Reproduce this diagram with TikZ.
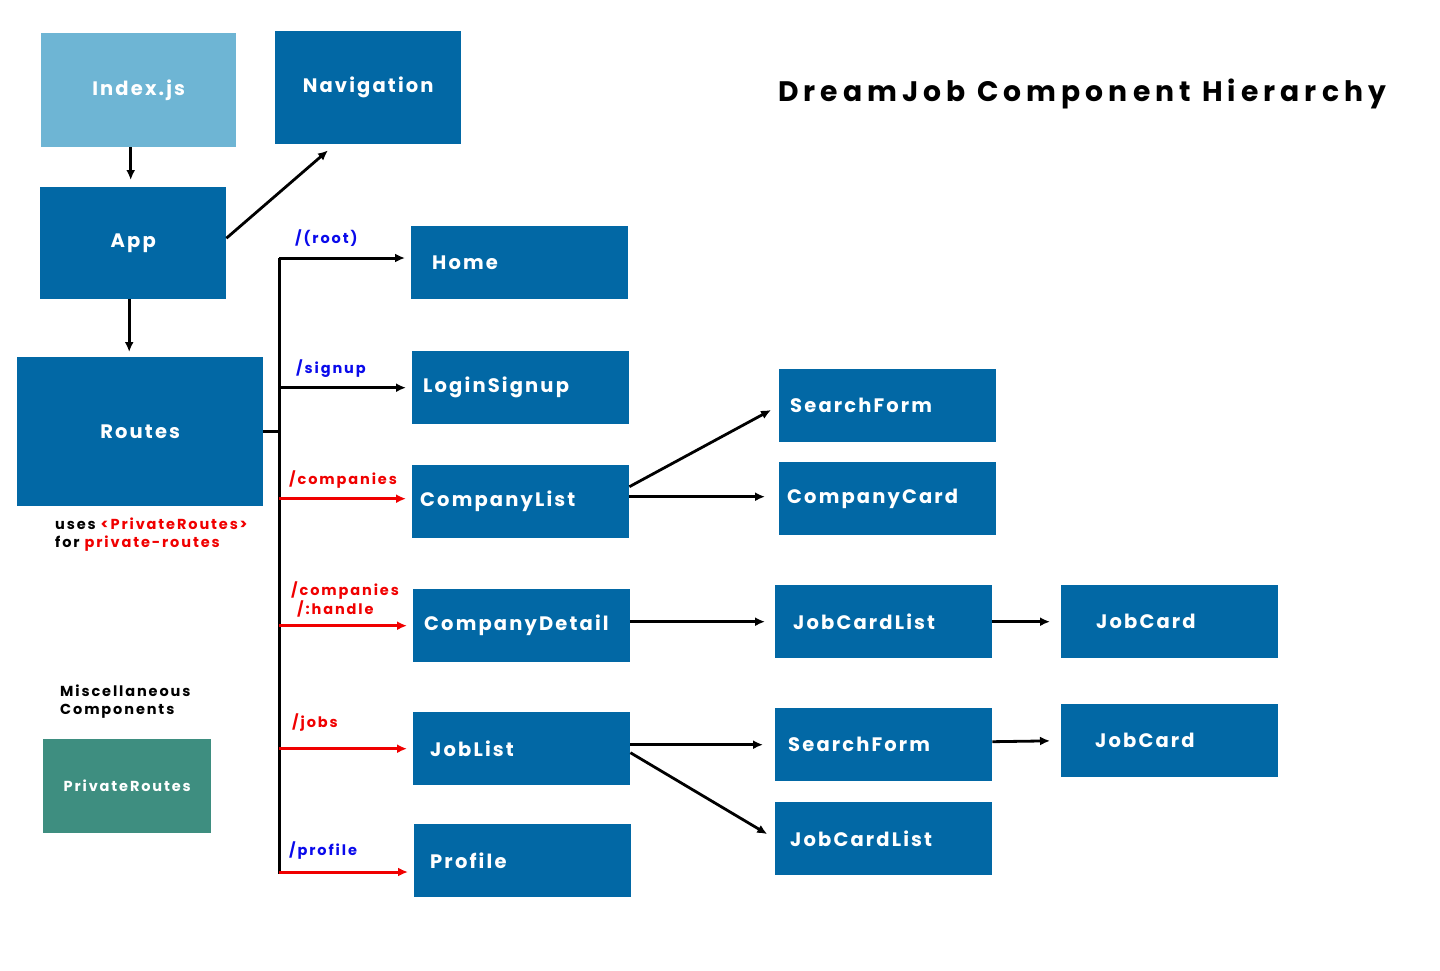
\documentclass[tikz,border=0pt]{standalone}
\usepackage{fontspec}
\setmainfont{Poppins}
\newfontfamily\boxfont{Poppins}[LetterSpace=11]
\newfontfamily\labelfont{Poppins}[LetterSpace=13]
\newfontfamily\titlefont{Poppins}[LetterSpace=18]
\usetikzlibrary{arrows.meta,positioning}
\definecolor{compblue}{RGB}{2,104,165}
\definecolor{rootblue}{RGB}{110,181,212}
\definecolor{miscgreen}{RGB}{62,142,128}
\definecolor{pathblue}{RGB}{10,10,235}
\definecolor{pathred}{RGB}{240,0,0}
\begin{document}
\begin{tikzpicture}[x=1pt,y=-1pt,
  comp/.style={fill=compblue, text=white, anchor=north west, inner xsep=14pt, inner ysep=0pt,
    minimum height=73pt, text width=189pt, align=left, font=\boxfont\bfseries\fontsize{19.5}{22}\selectfont},
  link/.style={line width=2.8pt, -{Latex[length=10pt,width=9pt]}, shorten >=7pt},
  route/.style={line width=3pt, -{Latex[length=10pt,width=9pt]}, shorten >=6pt},
  path/.style={anchor=west, inner sep=0pt, align=left, font=\labelfont\bfseries\fontsize{14.5}{17}\selectfont},
  note/.style={inner sep=0pt, align=left, font=\labelfont\bfseries\fontsize{14.5}{18}\selectfont}]
\useasboundingbox (0,0) rectangle (1440,971);
% title
\node[anchor=west, inner sep=0pt, font=\titlefont\bfseries\fontsize{28.2}{30}\selectfont] (title) at (778,94) {DreamJob Component Hierarchy};
% top level
\node[comp, fill=rootblue, minimum height=114pt, text width=155pt, inner xsep=20pt, align=center] (index) at (41,33) {Index.js};
\node[comp, minimum height=113pt, text width=146pt, inner xsep=20pt, align=center] (nav) at (275,31) {Navigation};
\node[comp, minimum height=112pt, text width=146pt, inner xsep=20pt, align=center] (app) at (40,187) {App};
\node[comp, minimum height=149pt, text width=206pt, inner xsep=20pt, align=center] (routes) at (17,357) {Routes};
% routed pages
\node[comp, inner xsep=21pt, text width=175pt] (home) at (411,226) {Home};
\node[comp, inner xsep=11pt, text width=195pt] (login) at (412,351) {LoginSignup};
\node[comp, inner xsep=8pt, text width=201pt] (complist) at (412,465) {CompanyList};
\node[comp, inner xsep=11pt, text width=195pt] (compdetail) at (413,589) {CompanyDetail};
\node[comp, inner xsep=17pt, text width=183pt] (joblist) at (413,712) {JobList};
\node[comp, inner xsep=16pt, text width=185pt] (profile) at (414,824) {Profile};
% children
\node[comp, inner xsep=11pt, text width=195pt] (search) at (779,369) {SearchForm};
\node[comp, inner xsep=8pt, text width=201pt] (compcard) at (779,462) {CompanyCard};
\node[comp, inner xsep=18pt, text width=181pt] (cardlist) at (775,585) {JobCardList};
\node[comp, inner xsep=35pt, text width=147pt] (jobcard) at (1061,585) {JobCard};
\node[comp, inner xsep=13pt, text width=191pt] (searchb) at (775,708) {SearchForm};
\node[comp, inner xsep=34pt, text width=149pt] (jobcardb) at (1061,704) {JobCard};
\node[comp, inner xsep=15pt, text width=187pt] (cardlistb) at (775,802) {JobCardList};
% misc
\node[comp, fill=miscgreen, minimum height=94pt, text width=140pt, align=center,
  font=\labelfont\bfseries\fontsize{14.5}{16}\selectfont] (priv) at (43,739) {PrivateRoutes};
\node[note, anchor=south west, above right=20pt and 17pt of priv.north west] (misc) {Miscellaneous\\Components};
\node[note, anchor=north west, below right=11pt and 38pt of routes.south west] (uses)
  {uses \textcolor{pathred}{<PrivateRoutes>}\\for \textcolor{pathred}{private-routes}};
% arrows
\draw[link] ([xshift=-8pt]index.south) -- ([xshift=-8pt]index.south |- app.north);
\draw[link, shorten >=0pt] ([yshift=5pt]app.east) -- ([xshift=53pt,yshift=-6pt]nav.south west);
\draw[link, shorten >=5pt] ([xshift=-4pt]app.south) -- ([xshift=-4pt]app.south |- routes.north);
% route trunk
\coordinate (rtop) at (279,258);
\coordinate (rbot) at (279,874);
\draw[line width=3pt] (rtop) -- (rbot);
\draw[line width=2.8pt] (routes.east) -- (routes.east -| rtop);
\draw[route] (rtop) -- (rtop -| home.west);
\draw[route] (login.west -| rtop) -- (login.west);
\draw[route, pathred] ([yshift=3pt]complist.west -| rtop) -- ([yshift=3pt]complist.west);
\draw[route, pathred] (compdetail.west -| rtop) -- (compdetail.west);
\draw[route, pathred] (joblist.west -| rtop) -- (joblist.west);
\draw[route, pathred] ([yshift=2pt]rbot) -- ([yshift=2pt]rbot -| profile.west);
\node[path, text=pathblue] (lroot) at (295,238) {/(root)};
\node[path, text=pathblue] (lsignup) at (296,369) {/signup};
\node[path, text=pathred] (lcomp) at (289,480) {/companies};
\node[path, text=pathred, anchor=north west] (lhandle) at (291,582) {/companies\\\hspace*{6pt}/:handle};
\node[path, text=pathred] (ljobs) at (292,723) {/jobs};
\node[path, text=pathblue] (lprofile) at (289,851) {/profile};
% child arrows
\draw[link, shorten >=9pt] ([yshift=15pt]complist.east) -- (search.west);
\draw[link, shorten >=14pt] ([yshift=5pt]complist.east) -- ([yshift=5pt]complist.east -| compcard.west);
\draw[link, shorten >=10pt] (compdetail.east |- cardlist.west) -- (cardlist.west);
\draw[link, shorten >=11pt] (cardlist.east) -- (jobcard.west);
\draw[link, shorten >=12pt] (joblist.east |- searchb.west) -- (searchb.west);
\draw[link, shorten >=11pt] ([yshift=3pt]searchb.east) -- (jobcardb.west);
\draw[link, shorten >=9pt] ([yshift=-4pt]joblist.east) -- (cardlistb.west);
\end{tikzpicture}
\end{document}
